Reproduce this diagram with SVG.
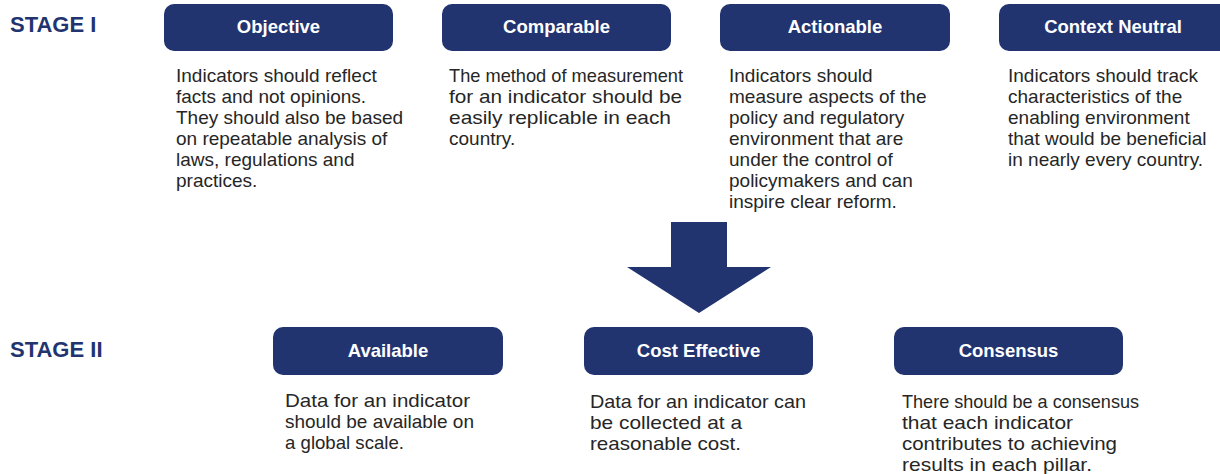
<svg xmlns="http://www.w3.org/2000/svg" width="1220" height="474" viewBox="0 0 1220 474">
<style>
.box{fill:#213470}
.stage{font-family:"Liberation Sans",Arial,sans-serif;font-weight:bold;font-size:22px;fill:#213470}
.title{font-family:"Liberation Sans",Arial,sans-serif;font-weight:bold;font-size:18.5px;fill:#ffffff;text-anchor:middle}
.body{font-family:"Liberation Sans",Arial,sans-serif;font-size:19px;fill:#262626}
.arrow{fill:#213470}
</style>
<rect width="1220" height="474" fill="#ffffff"/>
<text class="stage" x="10" y="32">STAGE I</text>
<text class="stage" x="10" y="357">STAGE II</text>
<g id="objective">
<rect class="box" x="164" y="4" width="229" height="47" rx="10"/>
<text class="title" x="278.5" y="33">Objective</text>
<text class="body" x="176" y="82">Indicators should reflect</text>
<text class="body" x="176" y="103">facts and not opinions.</text>
<text class="body" x="176" y="124">They should also be based</text>
<text class="body" x="176" y="145">on repeatable analysis of</text>
<text class="body" x="176" y="166">laws, regulations and</text>
<text class="body" x="176" y="187">practices.</text>
</g>
<g id="comparable">
<rect class="box" x="442" y="4" width="229" height="47" rx="10"/>
<text class="title" x="556.5" y="33">Comparable</text>
<text class="body" x="449" y="82" textLength="234" lengthAdjust="spacingAndGlyphs">The method of measurement</text>
<text class="body" x="449" y="103" textLength="233" lengthAdjust="spacingAndGlyphs">for an indicator should be</text>
<text class="body" x="449" y="124" textLength="222" lengthAdjust="spacingAndGlyphs">easily replicable in each</text>
<text class="body" x="449" y="145">country.</text>
</g>
<g id="actionable">
<rect class="box" x="720" y="4" width="230" height="47" rx="10"/>
<text class="title" x="835" y="33">Actionable</text>
<text class="body" x="729" y="82">Indicators should</text>
<text class="body" x="729" y="103">measure aspects of the</text>
<text class="body" x="729" y="124">policy and regulatory</text>
<text class="body" x="729" y="145">environment that are</text>
<text class="body" x="729" y="166">under the control of</text>
<text class="body" x="729" y="187">policymakers and can</text>
<text class="body" x="729" y="208">inspire clear reform.</text>
</g>
<g id="context-neutral">
<rect class="box" x="999" y="4" width="240" height="47" rx="10"/>
<text class="title" x="1113" y="33">Context Neutral</text>
<text class="body" x="1008" y="82">Indicators should track</text>
<text class="body" x="1008" y="103">characteristics of the</text>
<text class="body" x="1008" y="124">enabling environment</text>
<text class="body" x="1008" y="145">that would be beneficial</text>
<text class="body" x="1008" y="166">in nearly every country.</text>
</g>
<g id="connectors">
<polygon class="arrow" points="671,222 727,222 727,267 771,267 699,313 627,267 671,267"/>
</g>
<g id="available">
<rect class="box" x="273" y="327" width="230" height="48" rx="10"/>
<text class="title" x="388" y="357">Available</text>
<text class="body" x="285" y="407" textLength="185" lengthAdjust="spacingAndGlyphs">Data for an indicator</text>
<text class="body" x="285" y="428" textLength="189" lengthAdjust="spacingAndGlyphs">should be available on</text>
<text class="body" x="285" y="449" textLength="119" lengthAdjust="spacingAndGlyphs">a global scale.</text>
</g>
<g id="cost-effective">
<rect class="box" x="584" y="327" width="229" height="48" rx="10"/>
<text class="title" x="698.5" y="357">Cost Effective</text>
<text class="body" x="590" y="408" textLength="216" lengthAdjust="spacingAndGlyphs">Data for an indicator can</text>
<text class="body" x="590" y="429" textLength="152" lengthAdjust="spacingAndGlyphs">be collected at a</text>
<text class="body" x="590" y="450" textLength="151" lengthAdjust="spacingAndGlyphs">reasonable cost.</text>
</g>
<g id="consensus">
<rect class="box" x="894" y="327" width="229" height="48" rx="10"/>
<text class="title" x="1008.5" y="357">Consensus</text>
<text class="body" x="902" y="408" textLength="237" lengthAdjust="spacingAndGlyphs">There should be a consensus</text>
<text class="body" x="902" y="429" textLength="171" lengthAdjust="spacingAndGlyphs">that each indicator</text>
<text class="body" x="902" y="450" textLength="215" lengthAdjust="spacingAndGlyphs">contributes to achieving</text>
<text class="body" x="902" y="471" textLength="190" lengthAdjust="spacingAndGlyphs">results in each pillar.</text>
</g>
</svg>
